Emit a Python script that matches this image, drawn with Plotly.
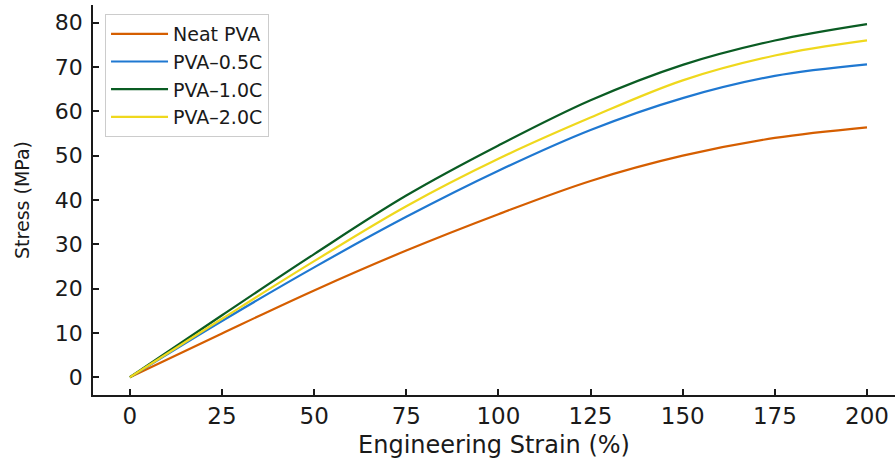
import plotly.graph_objects as go

strain = [0, 25, 50, 75, 100, 125, 150, 175, 200]
neat_pva = [0, 9.9, 19.6, 28.6, 36.8, 44.3, 50.0, 54.0, 56.4]
pva_05c = [0, 12.7, 24.8, 36.2, 46.6, 55.8, 63.0, 68.0, 70.6]
pva_10c = [0, 14.0, 27.8, 41.0, 52.3, 62.5, 70.5, 76.0, 79.7]
pva_20c = [0, 13.2, 26.2, 38.6, 49.3, 58.6, 67.0, 72.6, 76.0]

series = [
    ("Neat PVA", neat_pva, "#D55E00"),
    ("PVA\u20130.5C", pva_05c, "#1F78D1"),
    ("PVA\u20131.0C", pva_10c, "#0A5C23"),
    ("PVA\u20132.0C", pva_20c, "#EFD81D"),
]

x_ticks = [0, 25, 50, 75, 100, 125, 150, 175, 200]
y_ticks = [0, 10, 20, 30, 40, 50, 60, 70, 80]

fig = go.Figure()
for name, vals, col in series:
    fig.add_trace(go.Scatter(
        x=strain, y=vals, name=name, mode="lines",
        line=dict(color=col, width=2.2, shape="spline", smoothing=1.0),
    ))

font_family = "DejaVu Sans"
fig.update_layout(
    width=895, height=461,
    margin=dict(l=93, r=0, t=5, b=66),
    paper_bgcolor="white", plot_bgcolor="white",
    font=dict(family=font_family, color="#1a1a1a", size=18),
    showlegend=True,
    legend=dict(
        x=0.015, y=0.977, xanchor="left", yanchor="top",
        bordercolor="#cccccc", borderwidth=1, bgcolor="rgba(255,255,255,0.9)",
        font=dict(size=19, family=font_family),
        itemwidth=57,
        tracegroupgap=0,
    ),
    xaxis=dict(
        range=[-10, 207.6], tickvals=x_ticks, ticktext=[str(v) for v in x_ticks],
        ticks="inside", ticklen=6, tickwidth=1.5, tickcolor="#1a1a1a",
        showline=True, linecolor="#1a1a1a", linewidth=1.5,
        showgrid=False, zeroline=False,
        tickfont=dict(size=23),
        title=dict(text="Engineering Strain (%)", font=dict(size=24), standoff=8),
    ),
    yaxis=dict(
        range=[-4.0, 84.0], tickvals=y_ticks, ticktext=[str(v) for v in y_ticks],
        ticks="inside", ticklen=6, tickwidth=1.5, tickcolor="#1a1a1a",
        showline=True, linecolor="#1a1a1a", linewidth=1.5,
        showgrid=False, zeroline=False,
        tickfont=dict(size=22), ticklabelstandoff=4,
        title=dict(text="Stress (MPa)", font=dict(size=19), standoff=20),
    ),
)

fig.write_html("out.html", config={"displayModeBar": False},
               post_script="document.body.style.margin='0px';")
